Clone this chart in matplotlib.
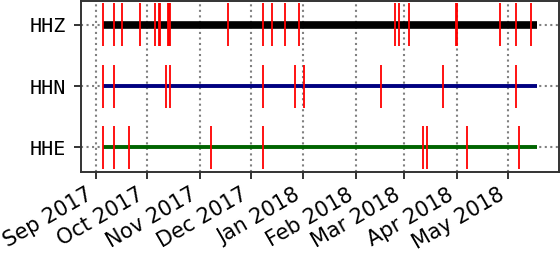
import pandas as pd
import matplotlib
matplotlib.use('Agg')
import matplotlib.pyplot as plt
import matplotlib.dates as mdates

# channels, top to bottom
channels = ['HHZ', 'HHN', 'HHE']
colors = ['black', 'navy', 'darkgreen']
widths = [5.5, 2.8, 2.8]

data_start = '2017-09-05 02:00'
data_end = '2018-05-17 22:00'

# small gaps breaking the trace (start, end)
gaps = {
    'HHZ': [('2017-10-08 00:00', '2017-10-08 19:00'),
            ('2017-10-13 07:00', '2017-10-14 00:00'),
            ('2018-03-31 16:00', '2018-04-01 06:00')],
    'HHN': [],
    'HHE': [],
}

# red gap markers
markers = {
    'HHZ': ['2017-09-05 02:00', '2017-09-11 14:00', '2017-09-16 07:00',
            '2017-09-26 19:00', '2017-10-05 14:00', '2017-10-08 00:00',
            '2017-10-08 19:00', '2017-10-13 07:00', '2017-10-14 00:00',
            '2017-10-14 19:00', '2017-11-17 12:00', '2017-12-08 00:00',
            '2017-12-13 12:00', '2017-12-21 00:00', '2017-12-29 05:00',
            '2018-02-23 17:00', '2018-02-26 02:00', '2018-03-03 22:00',
            '2018-03-31 16:00', '2018-04-01 06:00', '2018-04-26 10:00',
            '2018-05-05 19:00', '2018-05-14 14:00'],
    'HHN': ['2017-09-05 02:00', '2017-09-11 14:00', '2017-10-12 02:00',
            '2017-10-14 10:00', '2017-12-08 00:00', '2017-12-26 19:00',
            '2018-01-01 05:00', '2018-02-15 07:00', '2018-03-23 22:00',
            '2018-05-05 14:00'],
    'HHE': ['2017-09-05 02:00', '2017-09-11 14:00', '2017-09-20 10:00',
            '2017-11-07 12:00', '2017-12-08 00:00', '2018-03-12 05:00',
            '2018-03-14 07:00', '2018-04-06 19:00', '2018-05-07 07:00'],
}

fig = plt.figure(figsize=(5.6, 2.54), dpi=100)
ax = fig.add_axes([81 / 560, 1 - 172 / 254, 478 / 560, 171 / 254])

n = len(channels)
for i, (cha, col, lw) in enumerate(zip(channels, colors, widths)):
    y = n - 1 - i
    # continuous segments between gaps
    edges = [pd.Timestamp(data_start)]
    for g0, g1 in gaps[cha]:
        edges += [pd.Timestamp(g0), pd.Timestamp(g1)]
    edges.append(pd.Timestamp(data_end))
    for s, e in zip(edges[::2], edges[1::2]):
        ax.plot([s, e], [y, y], color=col, linewidth=lw,
                solid_capstyle='butt', zorder=3)
    ax.vlines(pd.to_datetime(markers[cha]), y - 0.35, y + 0.35,
              color='red', linewidth=1.3, zorder=4)

ax.set_yticks(range(n))
ax.set_yticklabels(channels[::-1], family='DejaVu Sans Mono', fontsize=14.5)
ax.set_ylim(-0.4, 2.39)
ax.set_xlim(pd.Timestamp('2017-08-23 09:00'), pd.Timestamp('2018-05-31 00:00'))

ax.xaxis.set_major_locator(mdates.MonthLocator())
ax.xaxis.set_major_formatter(mdates.DateFormatter('%b %Y'))
for lab in ax.get_xticklabels():
    lab.set_rotation(30)
    lab.set_ha('right')
    lab.set_fontsize(15)

ax.grid(True, linestyle=':', color='gray', linewidth=1.5, zorder=1)
ax.set_axisbelow(True)
ax.tick_params(axis='both', length=5, width=1.4, color='0.2')
ax.tick_params(axis='y', pad=5.5)
ax.tick_params(axis='x', pad=4)
for sp in ax.spines.values():
    sp.set_color('0.2')
    sp.set_linewidth(1.4)

fig.savefig('out.png', dpi=100)
